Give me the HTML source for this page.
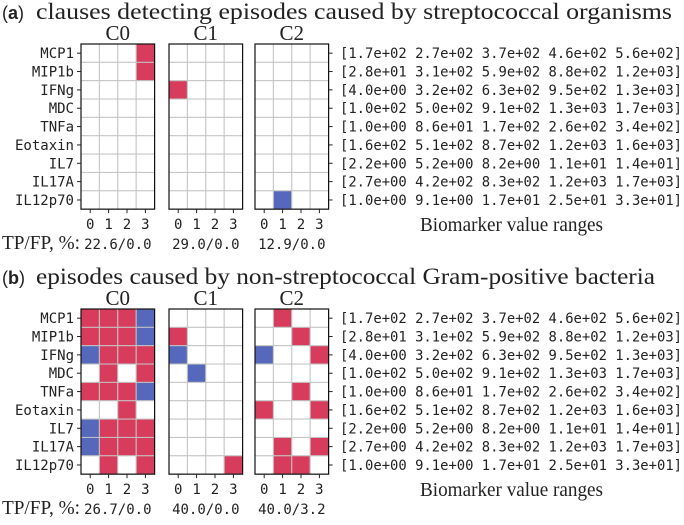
<!DOCTYPE html>
<html><head><meta charset="utf-8"><style>
body{margin:0;background:#fff;width:684px;height:520px;overflow:hidden}
svg text{fill:#222}
.mono{font-family:"DejaVu Sans Mono","Liberation Mono",monospace;font-size:14px}
.serif{font-family:"Liberation Serif",serif}
</style></head><body>
<svg id="chart" width="684" height="520" xmlns="http://www.w3.org/2000/svg"></svg>
<script>
const markers = ["MCP1","MIP1b","IFNg","MDC","TNFa","Eotaxin","IL7","IL17A","IL12p70"];
const bins = ["0","1","2","3"];
const clauseNames = ["C0","C1","C2"];
const ranges = [
"[1.7e+02 2.7e+02 3.7e+02 4.6e+02 5.6e+02]",
"[2.8e+01 3.1e+02 5.9e+02 8.8e+02 1.2e+03]",
"[4.0e+00 3.2e+02 6.3e+02 9.5e+02 1.3e+03]",
"[1.0e+02 5.0e+02 9.1e+02 1.3e+03 1.7e+03]",
"[1.0e+00 8.6e+01 1.7e+02 2.6e+02 3.4e+02]",
"[1.6e+02 5.1e+02 8.7e+02 1.2e+03 1.6e+03]",
"[2.2e+00 5.2e+00 8.2e+00 1.1e+01 1.4e+01]",
"[2.7e+00 4.2e+02 8.3e+02 1.2e+03 1.7e+03]",
"[1.0e+00 9.1e+00 1.7e+01 2.5e+01 3.3e+01]"];
// 0 = empty, 1 = red (include), 2 = blue (exclude)
const panelA_C0 = [[0,0,0,1],[0,0,0,1],[0,0,0,0],[0,0,0,0],[0,0,0,0],[0,0,0,0],[0,0,0,0],[0,0,0,0],[0,0,0,0]];
const panelA_C1 = [[0,0,0,0],[0,0,0,0],[1,0,0,0],[0,0,0,0],[0,0,0,0],[0,0,0,0],[0,0,0,0],[0,0,0,0],[0,0,0,0]];
const panelA_C2 = [[0,0,0,0],[0,0,0,0],[0,0,0,0],[0,0,0,0],[0,0,0,0],[0,0,0,0],[0,0,0,0],[0,0,0,0],[0,2,0,0]];
const panelB_C0 = [[1,1,1,2],[1,1,1,2],[2,1,1,1],[0,1,0,1],[1,1,1,2],[0,0,1,0],[2,1,1,1],[2,1,1,1],[0,1,0,1]];
const panelB_C1 = [[0,0,0,0],[1,0,0,0],[2,0,0,0],[0,2,0,0],[0,0,0,0],[0,0,0,0],[0,0,0,0],[0,0,0,0],[0,0,0,1]];
const panelB_C2 = [[0,1,0,0],[0,0,1,0],[2,0,0,1],[0,0,0,0],[0,0,1,0],[1,0,0,1],[0,0,0,0],[0,1,0,1],[0,1,1,0]];
const tpfpA = ["22.6/0.0","29.0/0.0","12.9/0.0"];
const tpfpB = ["26.7/0.0","40.0/0.0","40.0/3.2"];

const svg = document.getElementById('chart');
const NS = "http://www.w3.org/2000/svg";
function mk(tag, attrs, parent){const e=document.createElementNS(NS,tag);for(const k in attrs)e.setAttribute(k,attrs[k]);(parent||svg).appendChild(e);return e;}
const colors = {1:"#d83c5c",2:"#5668bb"};
const gridX = [81,169,255];
const cellW = 18.4, cellH = 18.35;

function panel(id, top, titleBold, titleRest, mats, tpfp, titleEnd){
  const g = mk('g',{});
  
  
  const pre = mk('text',{x:2,y:top-25,'font-size':'18','font-family':'Liberation Sans,sans-serif'},g);
  
  
  pre.innerHTML = '(<tspan font-weight="bold">'+titleBold+'</tspan>)';
  const t = mk('text',{x:36,y:top-25,'font-size':'23',textLength:titleEnd-36,lengthAdjust:'spacingAndGlyphs'},g);
  t.setAttribute('class','serif');
  
  
  t.textContent = titleRest;
  const H = cellH*markers.length, W = cellW*bins.length;
  const yS = i => top + i*cellH;
  const xS = (c,j) => gridX[c] + j*cellW;
  mats.forEach((m,c)=>{
    const cg = mk('g',{},g);
    
    
    const lab = mk('text',{x:gridX[c]+W/2,y:top-4,'text-anchor':'middle','font-size':'21'},cg);
    lab.setAttribute('class','serif');
    
    
    lab.textContent = clauseNames[c];
    m.forEach((row,i)=>row.forEach((v,j)=>{
      const r = mk('rect',{x:xS(c,j),y:yS(i),width:cellW,height:cellH,fill:v?colors[v]:'#fff',stroke:'#c4c4c4','stroke-width':1},cg);
      
      
    }));
    const b = mk('rect',{x:gridX[c],y:top,width:W,height:H,fill:'none',stroke:'#111','stroke-width':1.2},cg);
    
    
    bins.forEach((bl,j)=>{
      const cx = xS(c,j)+cellW/2;
      mk('line',{x1:cx,x2:cx,y1:top+H,y2:top+H+4,stroke:'#222'},cg);
      const tx = mk('text',{x:cx,y:top+H+20,'text-anchor':'middle','font-size':'15'},cg);
      tx.setAttribute('class','mono');
      
      
      tx.textContent = bl;
    });
    const tp = mk('text',{x:gridX[c]+W/2,y:top+H+40,'text-anchor':'middle','font-size':'14.5'},cg);
    tp.setAttribute('class','mono');
    
    
    tp.textContent = tpfp[c];
  });
  markers.forEach((mname,i)=>{
    const cy = yS(i)+cellH/2;
    mk('line',{x1:gridX[0]-4,x2:gridX[0],y1:cy,y2:cy,stroke:'#222'},g);
    const l = mk('text',{x:gridX[0]-7,y:cy+5,'text-anchor':'end'},g);
    l.setAttribute('class','mono');
    
    
    l.textContent = mname;
    const rx = gridX[2]+W;
    mk('line',{x1:rx,x2:rx+4,y1:cy,y2:cy,stroke:'#222'},g);
    const rr = mk('text',{x:340,y:cy+5,textLength:342,lengthAdjust:'spacingAndGlyphs'},g);
    rr.setAttribute('class','mono');
    
    
    rr.textContent = ranges[i];
  });
  const bx = mk('text',{x:420,y:top+H+22,'font-size':'19.5',textLength:183,lengthAdjust:'spacingAndGlyphs'},g);
  bx.setAttribute('class','serif');
  
  
  bx.textContent = 'Biomarker value ranges';
  const tl = mk('text',{x:2,y:top+H+40,'font-size':'19.5',textLength:78,lengthAdjust:'spacingAndGlyphs'},g);
  tl.setAttribute('class','serif');
  
  
  tl.textContent = 'TP/FP, %:';
}
panel('a',44,'a','clauses detecting episodes caused by streptococcal organisms',[panelA_C0,panelA_C1,panelA_C2],tpfpA,672);
panel('b',309,'b','episodes caused by non-streptococcal Gram-positive bacteria',[panelB_C0,panelB_C1,panelB_C2],tpfpB,655);
</script>
</body></html>
